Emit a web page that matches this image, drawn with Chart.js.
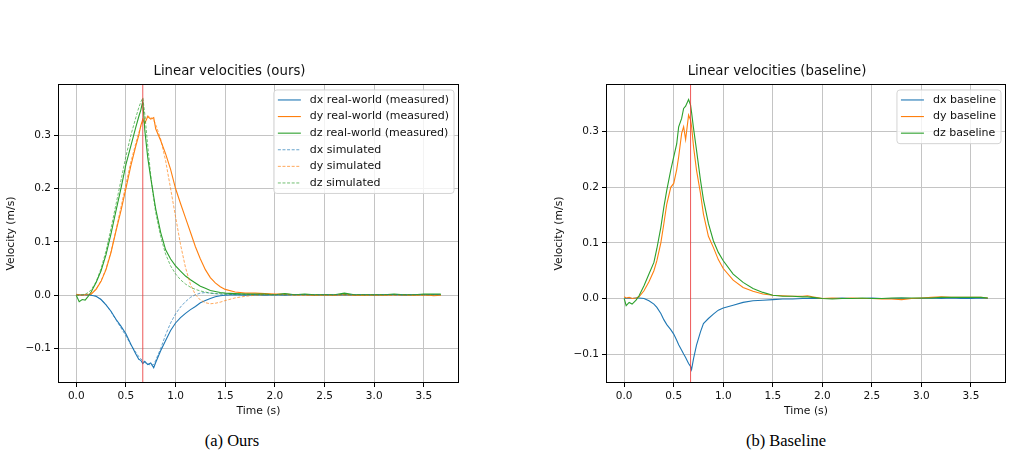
<!DOCTYPE html>
<html>
<head>
<meta charset="utf-8">
<script src="https://cdn.jsdelivr.net/npm/chart.js@4"></script>
<style>
  body { margin: 0; background: #fff; width: 1014px; height: 456px; position: relative; overflow: hidden; }
  canvas { position: absolute; }
  .cap { position: absolute; top: 431px; line-height: 20px; font-family: "Liberation Serif", "Times New Roman", serif; font-size: 16.5px; color: #000; transform: translateX(-50%); white-space: nowrap; }
</style>
</head>
<body>
<canvas id="ours" width="470" height="360" style="left:0;top:59px"></canvas>
<canvas id="base" width="466" height="360" style="left:548px;top:59px"></canvas>
<div class="cap" style="left:232px">(a) Ours</div>
<div class="cap" style="left:786px">(b) Baseline</div>
<script>
// tick labels
const xTicks = [0, 0.5, 1.0, 1.5, 2.0, 2.5, 3.0, 3.5];
const yTicks = [-0.1, 0.0, 0.1, 0.2, 0.3];
const markTime = 0.67;

// (a) ours: time base and series
const timeOurs = [0, 0.03, 0.06, 0.09, 0.12, 0.15, 0.2, 0.25, 0.3, 0.35, 0.4, 0.45, 0.5, 0.55, 0.6,
  0.63, 0.65, 0.67, 0.69, 0.72, 0.75, 0.78, 0.8, 0.85, 0.9, 0.95, 1.0, 1.05, 1.1, 1.15, 1.2, 1.25,
  1.3, 1.35, 1.4, 1.45, 1.5, 1.6, 1.7, 1.8, 1.9, 2.0, 2.1, 2.2, 2.3, 2.4, 2.5, 2.6, 2.7, 2.8, 2.9,
  3.0, 3.1, 3.2, 3.3, 3.4, 3.5, 3.6, 3.67];
const dxReal = [0.001, 0.001, 0.0, 0.001, 0.001, 0.0, -0.002, -0.008, -0.018, -0.03, -0.045, -0.058, -0.072, -0.092, -0.11,
  -0.12, -0.122, -0.128, -0.124, -0.13, -0.127, -0.136, -0.126, -0.104, -0.085, -0.066, -0.052, -0.042, -0.034, -0.027, -0.021, -0.014,
  -0.01, -0.006, -0.003, -0.001, 0.0, 0.001, 0.0, 0.001, 0.0, 0.001, 0.0, 0.001, 0.001, 0.0, 0.001, 0.0, 0.001, 0.0, 0.001,
  0.0, 0.001, 0.001, 0.0, 0.001, 0.001, 0.001, 0.001];
const dyReal = [0.002, 0.001, 0.0, 0.001, 0.0, 0.002, 0.011, 0.026, 0.048, 0.08, 0.12, 0.158, 0.2, 0.243, 0.28,
  0.3, 0.318, 0.33, 0.322, 0.335, 0.33, 0.333, 0.312, 0.29, 0.265, 0.236, 0.2, 0.172, 0.145, 0.118, 0.091, 0.068,
  0.048, 0.033, 0.023, 0.016, 0.011, 0.006, 0.004, 0.004, 0.003, 0.002, 0.002, 0.001, 0.001, 0.0, 0.001, 0.0, 0.002, 0.0, 0.0,
  0.001, 0.0, 0.001, 0.001, 0.0, 0.001, -0.001, 0.0];
const dzReal = [0.0, -0.012, -0.008, -0.009, -0.002, 0.006, 0.024, 0.046, 0.076, 0.115, 0.158, 0.2, 0.245, 0.28, 0.315,
  0.335, 0.347, 0.364, 0.31, 0.258, 0.22, 0.185, 0.162, 0.118, 0.085, 0.068, 0.055, 0.045, 0.036, 0.029, 0.023, 0.017,
  0.013, 0.009, 0.007, 0.005, 0.004, 0.003, 0.002, 0.002, 0.002, 0.001, 0.003, 0.001, 0.002, 0.001, 0.001, 0.001, 0.004, 0.001, 0.001,
  0.001, 0.001, 0.002, 0.001, 0.001, 0.002, 0.002, 0.002];
const dxSim = [0.0, 0.0, 0.0, 0.0, 0.0, 0.0, -0.002, -0.008, -0.018, -0.031, -0.046, -0.061, -0.076, -0.093, -0.107,
  -0.115, -0.119, -0.123, -0.126, -0.129, -0.131, -0.13, -0.122, -0.1, -0.074, -0.052, -0.035, -0.022, -0.012, -0.004, 0.001, 0.004,
  0.005, 0.004, 0.003, 0.002, 0.002, 0.001, 0.001, 0.001, 0.001, 0.001, 0.001, 0.001, 0.001, 0.001, 0.001, 0.001, 0.001, 0.001, 0.001,
  0.001, 0.001, 0.001, 0.001, 0.001, 0.001, 0.001, 0.001];
const dySim = [0.0, 0.0, 0.0, 0.001, 0.002, 0.004, 0.012, 0.027, 0.05, 0.082, 0.122, 0.165, 0.208, 0.25, 0.285,
  0.305, 0.316, 0.326, 0.332, 0.336, 0.334, 0.328, 0.32, 0.293, 0.252, 0.2, 0.147, 0.095, 0.052, 0.02, 0.001, -0.009,
  -0.014, -0.016, -0.015, -0.013, -0.01, -0.005, -0.002, 0.0, 0.001, 0.001, 0.001, 0.0, 0.0, 0.0, 0.0, 0.0, 0.0, 0.0, 0.0,
  0.0, 0.0, 0.0, 0.0, 0.0, 0.0, 0.0, 0.0];
const dzSim = [0.0, 0.0, 0.001, 0.002, 0.005, 0.01, 0.025, 0.05, 0.083, 0.125, 0.17, 0.215, 0.26, 0.3, 0.333,
  0.352, 0.362, 0.37, 0.34, 0.28, 0.225, 0.18, 0.155, 0.11, 0.077, 0.055, 0.04, 0.029, 0.021, 0.015, 0.011, 0.008,
  0.006, 0.004, 0.003, 0.003, 0.002, 0.002, 0.002, 0.001, 0.001, 0.001, 0.001, 0.001, 0.001, 0.001, 0.001, 0.001, 0.001, 0.001, 0.001,
  0.001, 0.001, 0.001, 0.001, 0.001, 0.001, 0.001, 0.001];

// (b) baseline: time base and series
const timeBase = [0, 0.02, 0.05, 0.08, 0.12, 0.15, 0.2, 0.25, 0.3, 0.33, 0.37, 0.4, 0.43, 0.47, 0.5,
  0.53, 0.55, 0.58, 0.6, 0.62, 0.65, 0.67, 0.68, 0.7, 0.73, 0.77, 0.8, 0.85, 0.9, 0.95, 1.0,
  1.1, 1.2, 1.3, 1.4, 1.5, 1.6, 1.7, 1.8, 1.85, 1.9, 2.0, 2.1, 2.2, 2.3, 2.4, 2.5, 2.6, 2.7, 2.8,
  2.9, 3.0, 3.1, 3.2, 3.3, 3.4, 3.5, 3.6, 3.67];
const dxBase = [0.001, 0.0, 0.001, 0.0, 0.001, 0.001, 0.0, -0.004, -0.01, -0.016, -0.027, -0.038, -0.047, -0.056, -0.064,
  -0.075, -0.083, -0.093, -0.1, -0.106, -0.117, -0.122, -0.128, -0.108, -0.084, -0.06, -0.045, -0.036, -0.028, -0.021, -0.017,
  -0.012, -0.007, -0.004, -0.003, -0.002, -0.001, -0.001, 0.0, 0.0, 0.0, 0.0, 0.0, 0.001, 0.0, 0.0, 0.001, 0.0, 0.0, 0.001,
  0.0, 0.0, 0.001, 0.0, 0.001, 0.0, 0.0, 0.001, 0.0];
const dyBase = [0.003, 0.001, 0.002, 0.0, 0.001, 0.003, 0.014, 0.03, 0.05, 0.068, 0.1, 0.134, 0.17, 0.2, 0.207,
  0.232, 0.255, 0.297, 0.309, 0.286, 0.33, 0.321, 0.31, 0.273, 0.231, 0.189, 0.152, 0.112, 0.092, 0.07, 0.054,
  0.033, 0.02, 0.013, 0.008, 0.006, 0.005, 0.004, 0.004, 0.005, 0.003, 0.0, 0.001, 0.0, 0.001, 0.0, 0.0, -0.001, -0.001, -0.002,
  0.0, 0.001, 0.002, 0.003, 0.002, 0.002, 0.002, 0.002, 0.001];
const dzBase = [0.0, -0.013, -0.007, -0.01, -0.003, 0.005, 0.023, 0.044, 0.065, 0.09, 0.128, 0.164, 0.195, 0.231, 0.255,
  0.278, 0.309, 0.324, 0.342, 0.346, 0.358, 0.348, 0.335, 0.306, 0.267, 0.213, 0.178, 0.135, 0.104, 0.083, 0.068,
  0.044, 0.029, 0.018, 0.011, 0.006, 0.004, 0.004, 0.003, 0.003, 0.002, 0.0, -0.001, 0.0, 0.0, 0.001, 0.0, 0.0, 0.001, 0.001,
  0.001, 0.001, 0.001, 0.002, 0.002, 0.002, 0.002, 0.002, 0.001];

const blue = "#1f77b4", orange = "#ff7f0e", green = "#2ca02c";
const fam = "'DejaVu Sans', sans-serif";

function pts(t, v) {
    return t.map((x, i) => ({ x: x, y: v[i] }));
}

// black frame around the axes + matplotlib style legend inside
const frameLegend = {
    id: "frameLegend",
    afterDraw(chart) {
        const ctx = chart.ctx, a = chart.chartArea;
        ctx.save();
        ctx.strokeStyle = "#000";
        ctx.lineWidth = 1;
        ctx.strokeRect(Math.round(a.left) + 0.5, Math.round(a.top) + 0.5,
            Math.round(a.right - a.left) - 1, Math.round(a.bottom - a.top) - 1);

        const items = chart.data.datasets.filter(d => d.label);
        ctx.font = "11px " + fam;
        const textW = Math.max(...items.map(d => ctx.measureText(d.label).width));
        const rowH = 16.6;
        const w = 36 + textW + 5;
        const h = 20.5 + (items.length - 1) * rowH;
        const x0 = a.right - 5 - w, y0 = a.top + 6;
        ctx.beginPath();
        ctx.roundRect(x0, y0, w, h, 3);
        ctx.fillStyle = "rgba(255,255,255,0.8)";
        ctx.fill();
        ctx.strokeStyle = "#d4d4d4";
        ctx.stroke();
        items.forEach((d, i) => {
            const y = y0 + 10 + i * rowH;
            ctx.beginPath();
            ctx.setLineDash(d.borderDash || []);
            ctx.strokeStyle = d.borderColor;
            ctx.lineWidth = d.borderWidth;
            ctx.moveTo(x0 + 4, y);
            ctx.lineTo(x0 + 27, y);
            ctx.stroke();
            ctx.setLineDash([]);
            ctx.fillStyle = "#111";
            ctx.textBaseline = "middle";
            ctx.fillText(d.label, x0 + 36, y);
        });
        ctx.restore();
    }
};

function fmt(v) {
    return v < 0 ? "\u2212" + Math.abs(v).toFixed(1) : v.toFixed(1);
}

function makeChart(id, title, time, series, yMin, yMax, padRight) {
    const datasets = series.map((s, i) => ({
        label: s.label,
        data: pts(time, s.values),
        borderColor: s.color,
        borderWidth: s.dashed ? 0.9 : 1.1,
        borderDash: s.dashed ? [3, 1.6] : [],
        pointRadius: 0,
        tension: 0,
        order: 20 - i
    }));
    datasets.push({
        label: "",
        data: [{ x: markTime, y: -1 }, { x: markTime, y: 1 }],
        borderColor: "rgba(235,60,60,0.85)",
        borderWidth: 1,
        pointRadius: 0,
        order: 0
    });

    new Chart(document.getElementById(id), {
        type: "line",
        data: { datasets: datasets },
        options: {
            responsive: false,
            animation: false,
            layout: { padding: { left: 0, right: padRight, top: 0, bottom: 0 } },
            plugins: {
                legend: { display: false },
                tooltip: { enabled: false },
                title: {
                    display: true,
                    text: title,
                    color: "#111",
                    font: { family: fam, size: 13.3, weight: "normal" },
                    padding: { top: 5, bottom: 4 }
                }
            },
            scales: {
                x: {
                    type: "linear",
                    min: -0.1835,
                    max: 3.8535,
                    afterBuildTicks: s => { s.ticks = xTicks.map(v => ({ value: v })); },
                    afterFit: s => { s.height = 36; },
                    border: { display: false },
                    grid: { color: "#c4c4c4", lineWidth: 1, tickColor: "#000", tickLength: 4 },
                    ticks: { color: "#111", font: { family: fam, size: 10.5 }, padding: 3, maxRotation: 0, callback: fmt },
                    title: { display: true, text: "Time (s)", color: "#111", font: { family: fam, size: 10.8 }, padding: { top: 0, bottom: 1 } }
                },
                y: {
                    min: yMin,
                    max: yMax,
                    afterBuildTicks: s => { s.ticks = yTicks.map(v => ({ value: v })); },
                    afterFit: s => { s.width = 58; },
                    border: { display: false },
                    grid: { color: "#c4c4c4", lineWidth: 1, tickColor: "#000", tickLength: 4 },
                    ticks: { color: "#111", font: { family: fam, size: 10.5 }, padding: 3, callback: fmt },
                    title: { display: true, text: "Velocity (m/s)", color: "#111", font: { family: fam, size: 10.8 }, padding: { top: 5, bottom: 0 } }
                }
            }
        },
        plugins: [frameLegend]
    });
}

makeChart("ours", "Linear velocities (ours)", timeOurs, [
    { label: "dx real-world (measured)", values: dxReal, color: blue },
    { label: "dy real-world (measured)", values: dyReal, color: orange },
    { label: "dz real-world (measured)", values: dzReal, color: green },
    { label: "dx simulated", values: dxSim, color: "rgba(31,119,180,0.75)", dashed: true },
    { label: "dy simulated", values: dySim, color: "rgba(255,127,14,0.75)", dashed: true },
    { label: "dz simulated", values: dzSim, color: "rgba(44,160,44,0.75)", dashed: true }
], -0.1645, 0.396, 11);

makeChart("base", "Linear velocities (baseline)", timeBase, [
    { label: "dx baseline", values: dxBase, color: blue },
    { label: "dy baseline", values: dyBase, color: orange },
    { label: "dz baseline", values: dzBase, color: green }
], -0.152, 0.386, 8);
</script>
</body>
</html>
